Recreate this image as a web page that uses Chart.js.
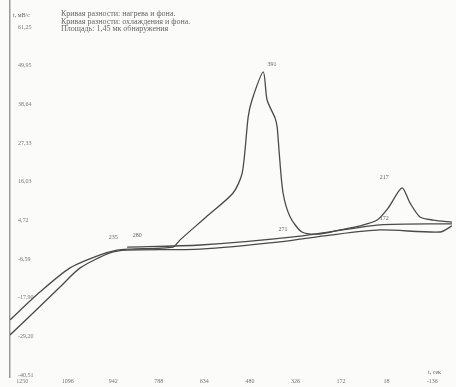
<!DOCTYPE html>
<html>
<head>
<meta charset="utf-8">
<script src="https://cdn.jsdelivr.net/npm/chart.js@4.4.0/dist/chart.umd.min.js"></script>
<style>
  html, body { margin: 0; padding: 0; background: #fbfbf9; }
  #wrap { width: 456px; height: 387px; }
  canvas { filter: blur(0.4px); }
</style>
</head>
<body>
<div id="wrap"><canvas id="dsc"></canvas></div>
<script>
// Heating curve (with the big peak)
const heatX = [1291, 1189, 1088, 986, 929, 885, 740, 716, 628, 537, 506, 486, 473, 435, 422, 395, 388, 381, 368, 344, 304, 243, 175, 108, 50, 13, -34, -61, -95, -139, -203];
const heatY = [-24.4, -16.2, -9.2, -5.4, -4.0, -3.7, -3.1, -1.0, 5.7, 12.7, 18.6, 34.9, 39.9, 48.1, 39.9, 34.6, 32.0, 24.4, 12.7, 5.7, 1.3, 0.7, 1.9, 3.1, 4.8, 8.3, 14.2, 9.8, 5.7, 4.8, 4.2];
// Cooling curve
const coolX = [1291, 1213, 1122, 1054, 953, 895, 648, 378, 209, 40, -163, -203];
const coolY = [-28.8, -22.4, -14.8, -9.2, -4.8, -4.0, -3.7, -1.6, 0.4, 1.9, 1.3, 3.1];
// Background curve
const baseX = [895, 648, 310, 40, -203];
const baseY = [-3.1, -2.5, 0.1, 3.4, 3.7];

// axis ticks
const yTicks = [-40.51, -29.20, -17.90, -6.59, 4.72, 16.03, 27.33, 38.64, 49.95, 61.25];
const xTicks = [1250, 1096, 942, 788, 634, 480, 326, 172, 18, -136];

// small marks written near the curves
const markX = [405, 26, 942, 861, 368, 26];
const markY = [50.4, 17.4, -0.4, 0.4, 2.2, 5.4];
const markText = ['391', '217', '235', '280', '271', '172'];

const headerLines = [
    'Кривая разности: нагрева и фона.',
    'Кривая разности: охлаждения и фона.',
    'Площадь: 1,45 мк обнаружения'
];

function toPoints(xs, ys) {
    return xs.map((x, i) => ({x: x, y: ys[i]}));
}

const lineStyle = {
    borderColor: '#4a4a4a',
    borderWidth: 1.3,
    pointRadius: 0,
    tension: 0.25,
    fill: false
};

const textPlugin = {
    id: 'textPlugin',
    afterDraw(chart) {
        const ctx = chart.ctx;
        const xs = chart.scales.x;
        const ys = chart.scales.y;
        ctx.save();
        ctx.fillStyle = '#666';
        ctx.textBaseline = 'middle';
        ctx.textAlign = 'left';
        ctx.font = '6px "Liberation Serif"';
        ctx.fillText('t, мВ/с', 13, 15);
        ctx.fillText('t, сек', 428, 372);
        ctx.font = '8px "Liberation Serif"';
        headerLines.forEach((t, i) => ctx.fillText(t, 61, 14 + i * 7.5));
        ctx.font = '6px "Liberation Serif"';
        ctx.textAlign = 'center';
        for (let i = 0; i < markText.length; i++) {
            ctx.fillText(markText[i], xs.getPixelForValue(markX[i]), ys.getPixelForValue(markY[i]));
        }
        ctx.restore();
    }
};

const ctx = document.getElementById('dsc');
new Chart(ctx, {
    type: 'line',
    data: {
        datasets: [
            Object.assign({label: 'Нагрев', data: toPoints(heatX, heatY)}, lineStyle),
            Object.assign({label: 'Охлаждение', data: toPoints(coolX, coolY)}, lineStyle),
            Object.assign({label: 'Фон', data: toPoints(baseX, baseY)}, lineStyle)
        ]
    },
    options: {
        responsive: true,
        maintainAspectRatio: false,
        animation: false,
        layout: {padding: {left: 10, right: 4, top: 0, bottom: 0}},
        plugins: {legend: {display: false}, tooltip: {enabled: false}},
        scales: {
            x: {
                type: 'linear',
                reverse: true,
                min: -203,
                max: 1291,
                grid: {display: false, tickLength: 0},
                border: {display: false},
                afterBuildTicks: (axis) => { axis.ticks = xTicks.map(v => ({value: v})); },
                afterFit: (axis) => { axis.height = 10; axis.paddingLeft = 0; axis.paddingRight = 0; },
                ticks: {
                    color: '#777',
                    font: {size: 6, family: 'Liberation Serif'},
                    padding: 1,
                    maxRotation: 0,
                    autoSkip: false,
                    callback: (v) => String(v)
                }
            },
            y: {
                type: 'linear',
                min: -41.1,
                max: 69.14,
                grid: {display: false, tickLength: 0},
                border: {display: true, color: '#9a9a9a', width: 1.5},
                afterBuildTicks: (axis) => { axis.ticks = yTicks.map(v => ({value: v})); },
                afterFit: (axis) => { axis.width = 0; axis.paddingTop = 0; axis.paddingBottom = 0; },
                ticks: {
                    mirror: true,
                    padding: 8,
                    color: '#777',
                    font: {size: 6, family: 'Liberation Serif'},
                    autoSkip: false,
                    callback: (v) => v.toFixed(2).replace('.', ',')
                }
            }
        }
    },
    plugins: [textPlugin]
});
</script>
</body>
</html>
